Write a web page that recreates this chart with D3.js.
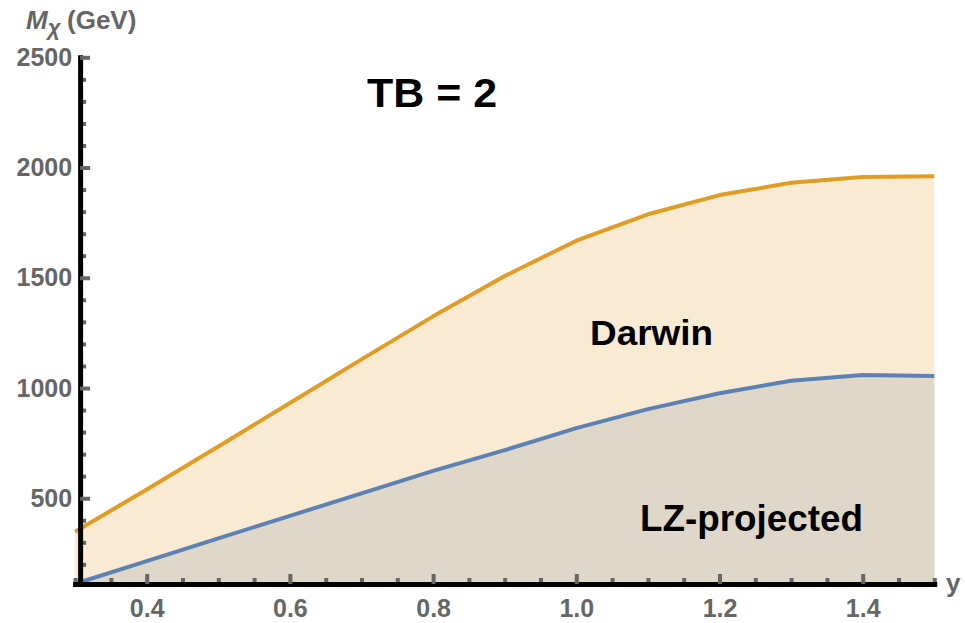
<!DOCTYPE html>
<html>
<head>
<meta charset="utf-8">
<script src="https://cdn.jsdelivr.net/npm/d3@7"></script>
<style>
  body { margin: 0; background: #ffffff; }
  svg { display: block; }
  text { font-family: "Liberation Sans", Arial, Helvetica, sans-serif; font-weight: bold; }
</style>
</head>
<body>
<svg id="chart" width="965" height="623"></svg>
<script>
// Coupling y and the reach in dark-matter mass M_chi (GeV) at TB = 2
const couplings  = [0.3, 0.4, 0.5, 0.6, 0.7, 0.8, 0.9, 1.0, 1.1, 1.2, 1.3, 1.4, 1.5];
const darwinMass = [348, 540, 735, 932, 1130, 1325, 1508, 1668, 1788, 1875, 1931, 1957, 1960];
const lzMass     = [112, 215, 318, 420, 522, 624, 718, 818, 904, 976, 1033, 1059, 1055];

// Axis ticks and labels
const xMajorTicks = [0.4, 0.6, 0.8, 1.0, 1.2, 1.4];
const xMinorTicks = [0.3, 0.35, 0.45, 0.5, 0.55, 0.65, 0.7, 0.75, 0.85, 0.9, 0.95,
                     1.05, 1.1, 1.15, 1.25, 1.3, 1.35, 1.45, 1.5];
const yMajorTicks = [500, 1000, 1500, 2000, 2500];
const yMinorTicks = [200, 300, 400, 600, 700, 800, 900, 1100, 1200, 1300, 1400,
                     1600, 1700, 1800, 1900, 2100, 2200, 2300, 2400];

const seriesNames = ["LZ-projected", "Darwin"];
const title = "TB = 2";

const COL_ORANGE = "#e19c24";
const COL_BLUE = "#5e81b5";
const GRAY = "#666666";

const svg = d3.select("#chart");

const x = d3.scaleLinear().domain([0.3, 1.5]).range([75.1, 934.3]);
const y = d3.scaleLinear().domain([111, 2500]).range([584, 57.3]);
const axisCrossX = 0.307;   // the vertical axis sits just right of the first sample

const rows = couplings.map((c, i) => ({ c, darwin: darwinMass[i], lz: lzMass[i] }));

const areaOf = key => d3.area().x(d => x(d.c)).y0(y(111)).y1(d => y(d[key]));
const lineOf = key => d3.line().x(d => x(d.c)).y(d => y(d[key]));

// Filled regions down to the axis (blue first, the orange fill over it)
svg.append("path").datum(rows).attr("d", areaOf("lz"))
  .attr("fill", COL_BLUE).attr("fill-opacity", 0.2);
svg.append("path").datum(rows).attr("d", areaOf("darwin"))
  .attr("fill", COL_ORANGE).attr("fill-opacity", 0.2);

// Boundary curves
svg.append("path").datum(rows).attr("d", lineOf("darwin"))
  .attr("fill", "none").attr("stroke", COL_ORANGE).attr("stroke-width", 4)
  .attr("stroke-linejoin", "round");
svg.append("path").datum(rows).attr("d", lineOf("lz"))
  .attr("fill", "none").attr("stroke", COL_BLUE).attr("stroke-width", 4)
  .attr("stroke-linejoin", "round");

// Axes
function styleAxis(g, withDomain) {
  g.selectAll(".tick line").attr("stroke", GRAY).attr("stroke-width", 4);
  g.selectAll(".tick text").attr("fill", GRAY).style("font-size", "25px")
    .style("font-family", "'Liberation Sans', Arial, sans-serif").style("font-weight", "bold");
  if (withDomain) {
    g.select(".domain").attr("stroke", "#000").attr("stroke-width", 5)
      .attr("stroke-linecap", "square");
  } else {
    g.select(".domain").remove();
  }
}

const yAxisG = svg.append("g").attr("transform", `translate(${x(axisCrossX)},0)`);
yAxisG.append("g").call(d3.axisLeft(y).tickValues(yMinorTicks).tickFormat("")
  .tickSizeInner(-6).tickSizeOuter(0)).call(g => styleAxis(g, false));
yAxisG.append("g").call(d3.axisLeft(y).tickValues(yMajorTicks).tickFormat(d3.format("d"))
  .tickSizeInner(-10).tickSizeOuter(0).tickPadding(8)).call(g => styleAxis(g, true));

const xAxisG = svg.append("g").attr("transform", `translate(0,${y(111)})`);
xAxisG.append("g").call(d3.axisBottom(x).tickValues(xMinorTicks).tickFormat("")
  .tickSizeInner(-6).tickSizeOuter(0)).call(g => styleAxis(g, false));
xAxisG.append("g").call(d3.axisBottom(x).tickValues(xMajorTicks).tickFormat(d3.format(".1f"))
  .tickSizeInner(-10).tickSizeOuter(0).tickPadding(15)).call(g => styleAxis(g, true));

// Axis titles
const yLab = svg.append("text").attr("x", 26).attr("y", 29).attr("fill", GRAY)
  .style("font-size", "26px");
yLab.append("tspan").style("font-style", "italic").text("M");
yLab.append("tspan").style("font-style", "italic").style("font-size", "22px")
  .attr("dy", 6).text("χ");
yLab.append("tspan").attr("x", 67).attr("dy", -6).text("(GeV)");

svg.append("text").attr("x", 946).attr("y", 592).attr("fill", GRAY)
  .style("font-size", "26px").text("y");

// Annotations
svg.append("text").attr("x", 367).attr("y", 107).attr("fill", "#000")
  .attr("textLength", 130).attr("lengthAdjust", "spacingAndGlyphs")
  .style("font-size", "40px").text(title);
svg.append("text").attr("x", 590).attr("y", 345).attr("fill", "#000")
  .attr("textLength", 123).attr("lengthAdjust", "spacingAndGlyphs")
  .style("font-size", "35px").text(seriesNames[1]);
svg.append("text").attr("x", 640).attr("y", 531).attr("fill", "#000")
  .attr("textLength", 223).attr("lengthAdjust", "spacingAndGlyphs")
  .style("font-size", "36px").text(seriesNames[0]);
</script>
</body>
</html>
